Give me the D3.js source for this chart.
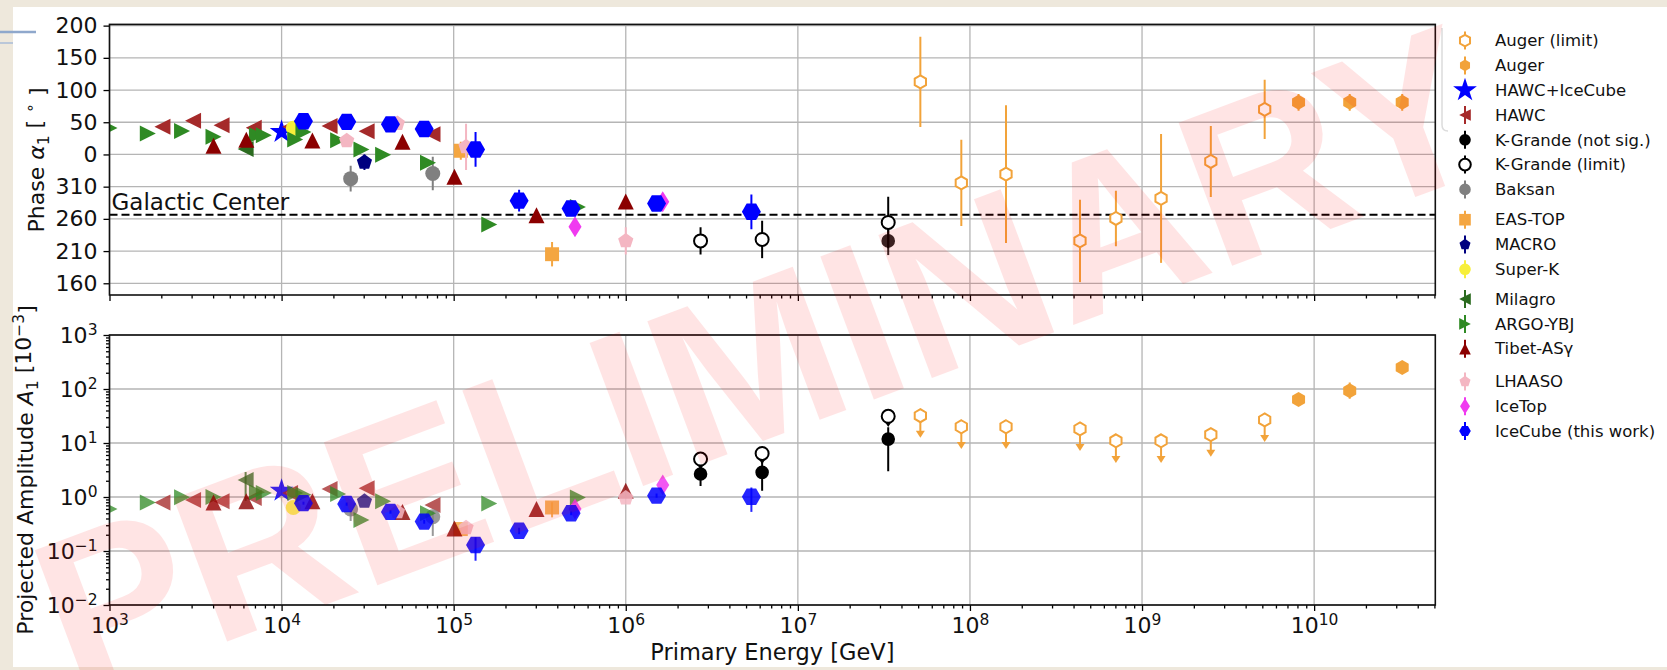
<!DOCTYPE html>
<html>
<head>
<meta charset="utf-8">
<script src="https://cdn.jsdelivr.net/npm/d3@7"></script>
<style>
  html, body { margin: 0; padding: 0; background: #eee8dc; }
  svg { display: block; }
</style>
</head>
<body>
<svg id="chart" width="1667" height="670"></svg>
<script>
// ---------------- axis ticks ----------------
const energyTickExps = [3, 4, 5, 6, 7, 8, 9, 10];
const ampTickExps = [-2, -1, 0, 1, 2, 3];
const phaseTicks = [200, 150, 100, 50, 0, -50, -100, -150, -200];
const phaseTickLabels = ["200", "150", "100", "50", "0", "310", "260", "210", "160"];
const galacticCenterRA = 266.4;

// ---------------- data: energy [GeV], phase [deg RA], amplitude [1e-3] ----------------
// Auger (limit)
const augerLimE = [5.15e7, 8.91e7, 1.62e8, 4.36e8, 7.05e8, 1.29e9, 2.51e9, 5.16e9];
const augerLimPhase = [112.7, 315.9, 329.4, 225.8, 260.6, 291.7, 349.1, 69.9];
const augerLimPhaseErr = [70, 67, 107, 64, 43, 100, 55, 46];
const augerLimAmp = [32, 20, 20, 18.2, 11.0, 11.0, 14.3, 26.7];
// Auger
const augerE = [8.12e9, 1.61e10, 3.25e10];
const augerPhase = [81, 81, 81];
const augerPhaseErr = [13, 13, 13];
const augerAmp = [64, 93, 251];
const augerAmpLo = [58, 66, 228];
const augerAmpHi = [71, 132, 276];
// HAWC+IceCube
const hawcIceE = [1.0e4];
const hawcIcePhase = [35];
const hawcIceAmp = [1.31];
// HAWC
const hawcE = [2.03e3, 3.06e3, 4.48e3, 6.89e3, 1.12e4, 1.90e4, 3.12e4, 7.53e4];
const hawcPhase = [42.9, 52.2, 45.5, 41.3, 43, 44, 36.2, 31.5];
const hawcAmp = [0.79, 0.88, 0.83, 0.96, 1.19, 1.41, 1.45, 0.71];
// KASCADE-Grande (not significant)
const kgNsE = [2.72e6, 6.20e6, 3.35e7];
const kgNsPhase = [null, null, 225.8];
const kgNsPhaseErr = [null, null, 22];
const kgNsAmp = [2.67, 2.86, 11.8];
const kgNsAmpLo = [1.6, 1.3, 3.0];
const kgNsAmpHi = [4.0, 4.6, 19.5];
// KASCADE-Grande (limit)
const kgLimE = [2.72e6, 6.20e6, 3.35e7];
const kgLimPhase = [225.8, 228, 254.4];
const kgLimPhaseErr = [21, 29, 40];
const kgLimAmp = [5.05, 6.4, 31.2];
// Baksan
const baksanE = [2.52e4, 7.56e4];
const baksanPhase = [322.4, 330.5];
const baksanPhaseErr = [20, 26];
const baksanAmp = [0.60, 0.43];
const baksanAmpLo = [0.36, 0.19];
const baksanAmpHi = [0.75, 0.55];
// EAS-TOP
const easTopE = [1.10e5, 3.73e5];
const easTopPhase = [5.6, 205.2];
const easTopPhaseErr = [14, 19];
const easTopAmp = [0.255, 0.64];
const easTopAmpLo = [0.22, 0.42];
const easTopAmpHi = [0.29, 0.80];
// MACRO
const macroE = [3.03e4];
const macroPhase = [348];
const macroPhaseErr = [12];
const macroAmp = [0.83];
// Super-K
const superKE = [1.17e4];
const superKPhase = [40.8];
const superKAmp = [0.64];
// Milagro
const milagroE = [6.18e3];
const milagroPhase = [8.5];
const milagroPhaseErr = [4];
const milagroAmp = [2.07];
const milagroAmpLo = [0.85];
const milagroAmpHi = [2.9];
// ARGO-YBJ
const argoE = [1.0e3, 1.67e3, 2.64e3, 4.02e3, 7.19e3, 7.88e3, 1.20e4, 1.34e4, 2.13e4, 2.91e4, 3.89e4, 7.09e4, 1.61e5, 5.27e5];
const argoPhase = [41, 32.6, 36.6, 27.3, 30, 30, 23.3, 35, 22.2, 7.8, 359.7, 347, 251.3, 278.6];
const argoAmp = [0.60, 0.79, 0.99, 1.0, 1.22, 1.19, 1.19, 1.10, 1.14, 0.375, 0.83, 0.50, 0.76, 0.98];
// Tibet-ASγ
const tibetE = [4.02e3, 6.24e3, 1.51e4, 5.04e4, 1.01e5, 3.03e5, 1.00e6];
const tibetPhase = [13.4, 22.8, 21.6, 19.6, 325.5, 265.7, 287];
const tibetPhaseErr = [3, 3, 3, 4, 6, 8, 8];
const tibetAmp = [0.79, 0.83, 0.83, 0.53, 0.26, 0.60, 1.31];
// LHAASO
const lhaasoE = [2.39e4, 4.71e4, 1.18e5, 1.00e6];
const lhaasoPhase = [21.4, 48.1, 11.8, 225.8];
const lhaasoPhaseErr = [5, 5, 36, 21];
const lhaasoAmp = [0.72, 0.53, 0.27, 0.96];
// IceTop
const icetopE = [5.07e5, 1.64e6];
const icetopPhase = [247.6, 286.4];
const icetopPhaseErr = [9, 9];
const icetopAmp = [0.60, 1.67];
// IceCube (this work)
const icecubeE = [1.34e4, 2.39e4, 4.29e4, 6.74e4, 1.34e5, 2.40e5, 4.81e5, 1.51e6, 5.37e6];
const icecubePhase = [51.7, 50.6, 46.7, 39.6, 7.8, 288.3, 276.1, 283.9, 270.9];
const icecubePhaseErr = [3, 3, 3, 4, 27, 17, 5, 6, 27];
const icecubeAmp = [0.77, 0.74, 0.53, 0.35, 0.129, 0.238, 0.50, 1.06, 1.01];
const icecubeAmpLo = [0.72, 0.69, 0.49, 0.32, 0.066, 0.205, 0.46, 0.97, 0.53];
const icecubeAmpHi = [0.82, 0.79, 0.57, 0.38, 0.18, 0.27, 0.54, 1.16, 1.5];

// ---------------- series table (drawing order = legend order) ----------------
const series = [
  { name: "Auger (limit)", E: augerLimE, phase: augerLimPhase, phaseErr: augerLimPhaseErr, amp: augerLimAmp,
    shape: "hexPointy", r: 6.5, color: "#f2a33a", open: true, arrowDex: 0.41, lowAlpha: 1 },
  { name: "Auger", E: augerE, phase: augerPhase, phaseErr: augerPhaseErr, amp: augerAmp, ampLo: augerAmpLo, ampHi: augerAmpHi,
    shape: "hexPointy", r: 7.5, color: "#f2a33a", lowAlpha: 1 },
  { name: "HAWC+IceCube", E: hawcIceE, phase: hawcIcePhase, amp: hawcIceAmp,
    shape: "star", r: 12.5, color: "#0000ff", lowAlpha: 0.85 },
  { name: "HAWC", E: hawcE, phase: hawcPhase, amp: hawcAmp,
    shape: "triLeft", r: 8, color: "#a52a2a", lowAlpha: 0.78 },
  { name: "K-Grande (not sig.)", E: kgNsE, phase: kgNsPhase, phaseErr: kgNsPhaseErr, amp: kgNsAmp, ampLo: kgNsAmpLo, ampHi: kgNsAmpHi,
    shape: "circle", r: 6.8, color: "#000000", lowAlpha: 1, upAlpha: 0.85 },
  { name: "K-Grande (limit)", E: kgLimE, phase: kgLimPhase, phaseErr: kgLimPhaseErr, amp: kgLimAmp,
    shape: "circle", r: 6.5, color: "#000000", open: true, arrowDex: 0.2, lowAlpha: 1 },
  { name: "Baksan", E: baksanE, phase: baksanPhase, phaseErr: baksanPhaseErr, amp: baksanAmp, ampLo: baksanAmpLo, ampHi: baksanAmpHi,
    shape: "circle", r: 7.5, color: "#808080", lowAlpha: 0.8 },
  { name: "EAS-TOP", E: easTopE, phase: easTopPhase, phaseErr: easTopPhaseErr, amp: easTopAmp, ampLo: easTopAmpLo, ampHi: easTopAmpHi,
    shape: "square", r: 7, color: "#f4a641", lowAlpha: 0.85 },
  { name: "MACRO", E: macroE, phase: macroPhase, phaseErr: macroPhaseErr, amp: macroAmp,
    shape: "pent", r: 8, color: "#000080", lowAlpha: 0.75 },
  { name: "Super-K", E: superKE, phase: superKPhase, amp: superKAmp,
    shape: "circle", r: 7.5, color: "#f7ef3a", lowAlpha: 0.8 },
  { name: "Milagro", E: milagroE, phase: milagroPhase, phaseErr: milagroPhaseErr, amp: milagroAmp, ampLo: milagroAmpLo, ampHi: milagroAmpHi,
    shape: "triLeft", r: 8, color: "#2b6b1f", lowAlpha: 0.75 },
  { name: "ARGO-YBJ", E: argoE, phase: argoPhase, amp: argoAmp,
    shape: "triRight", r: 8, color: "#2f8a24", lowAlpha: 0.75 },
  { name: "Tibet-ASγ", E: tibetE, phase: tibetPhase, phaseErr: tibetPhaseErr, amp: tibetAmp,
    shape: "triUp", r: 8, color: "#8b0000", lowAlpha: 0.8 },
  { name: "LHAASO", E: lhaasoE, phase: lhaasoPhase, phaseErr: lhaasoPhaseErr, amp: lhaasoAmp,
    shape: "pent", r: 8, color: "#f4b6c2", lowAlpha: 0.85 },
  { name: "IceTop", E: icetopE, phase: icetopPhase, phaseErr: icetopPhaseErr, amp: icetopAmp,
    shape: "thinDiamond", r: 10.5, color: "#f03af0", lowAlpha: 0.85 },
  { name: "IceCube (this work)", E: icecubeE, phase: icecubePhase, phaseErr: icecubePhaseErr, amp: icecubeAmp, ampLo: icecubeAmpLo, ampHi: icecubeAmpHi,
    shape: "hexFlat", r: 9.5, color: "#0000ff", lowAlpha: 0.85 }
];

// ---------------- layout ----------------
const FONT = "DejaVu Sans";
const X0 = 109.5, X1 = 1435.3;
const P1 = { top: 24.4, bottom: 295 };
const P2 = { top: 335, bottom: 605 };

const svg = d3.select("#chart");

const x = d3.scaleLog().domain([1e3, 5.06e10]).range([X0, X1]);
const yP = d3.scaleLinear().domain([-218.2, 201.9]).range([P1.bottom, P1.top]);
const yA = d3.scaleLog().domain([1e-2, 1e3]).range([P2.bottom, P2.top]);

// phase in RA degrees folded onto the plotted range
const wrap = ra => (ra > 202 ? ra - 360 : ra);

// ---------------- marker shapes ----------------
function shapePath(shape, r) {
  const poly = (n, rot, rad) => d3.range(n).map(i => {
    const a = rot + i * 2 * Math.PI / n;
    return [rad * Math.cos(a), rad * Math.sin(a)];
  });
  let p;
  switch (shape) {
    case "hexFlat": p = poly(6, 0, r); break;
    case "hexPointy": p = poly(6, -Math.PI / 2, r); break;
    case "pent": p = poly(5, -Math.PI / 2, r); break;
    case "triUp": p = [[0, -r], [-r, r], [r, r]]; break;
    case "triLeft": p = [[-r, 0], [r, -r], [r, r]]; break;
    case "triRight": p = [[r, 0], [-r, -r], [-r, r]]; break;
    case "square": p = [[-r, -r], [r, -r], [r, r], [-r, r]]; break;
    case "thinDiamond": p = [[0, -r], [0.62 * r, 0], [0, r], [-0.62 * r, 0]]; break;
    case "star": p = d3.range(10).map(i => {
        const a = -Math.PI / 2 + i * Math.PI / 5;
        const rad = i % 2 === 0 ? r : r * 0.382;
        return [rad * Math.cos(a), rad * Math.sin(a)];
      }); break;
    case "circle": {
      const path = d3.path();
      path.arc(0, 0, r, 0, 2 * Math.PI);
      path.closePath();
      return path.toString();
    }
  }
  return "M" + p.map(q => q[0].toFixed(2) + "," + q[1].toFixed(2)).join("L") + "Z";
}

function drawMarker(g, s, cx, cy, r, alpha) {
  g.append("path")
    .attr("d", shapePath(s.shape, r))
    .attr("transform", `translate(${cx},${cy})`)
    .attr("fill", s.open ? "#ffffff" : s.color)
    .attr("stroke", s.open ? s.color : "none")
    .attr("stroke-width", s.open ? 2 : 0)
    .attr("opacity", alpha);
}

function vline(g, xx, ya, yb, color, alpha, w) {
  g.append("line")
    .attr("x1", xx).attr("x2", xx).attr("y1", ya).attr("y2", yb)
    .attr("stroke", color).attr("stroke-width", w || 2).attr("opacity", alpha);
}

// ---------------- background ----------------
svg.append("rect").attr("width", 1667).attr("height", 670).attr("fill", "#eee8dc");
svg.append("rect").attr("x", 13).attr("y", 7).attr("width", 1654).attr("height", 660).attr("fill", "#ffffff");
svg.append("line").attr("x1", 0).attr("x2", 36).attr("y1", 32).attr("y2", 32)
  .attr("stroke", "#8fa8cc").attr("stroke-width", 2.5);
svg.append("line").attr("x1", 0).attr("x2", 13).attr("y1", 43).attr("y2", 43)
  .attr("stroke", "#a9bcd8").attr("stroke-width", 1.5);

// ---------------- clip paths ----------------
const defs = svg.append("defs");
defs.append("clipPath").attr("id", "clipTop").append("rect")
  .attr("x", X0).attr("y", P1.top).attr("width", X1 - X0).attr("height", P1.bottom - P1.top);
defs.append("clipPath").attr("id", "clipBot").append("rect")
  .attr("x", X0).attr("y", P2.top).attr("width", X1 - X0).attr("height", P2.bottom - P2.top);

// ---------------- grids ----------------
const majorE = energyTickExps.map(e => Math.pow(10, e));
const minorE = [];
energyTickExps.forEach(e => d3.range(2, 10).forEach(m => {
  const v = m * Math.pow(10, e);
  if (v < x.domain()[1]) minorE.push(v);
}));
const majorA = ampTickExps.map(e => Math.pow(10, e));
const minorA = [];
ampTickExps.slice(0, -1).forEach(e => d3.range(2, 10).forEach(m => minorA.push(m * Math.pow(10, e))));

const grid = svg.append("g").attr("stroke", "#b5b5b5").attr("stroke-width", 1.3);
[P1, P2].forEach(P => {
  majorE.forEach(v => grid.append("line")
    .attr("x1", x(v)).attr("x2", x(v)).attr("y1", P.top).attr("y2", P.bottom));
});
phaseTicks.forEach(v => grid.append("line")
  .attr("x1", X0).attr("x2", X1).attr("y1", yP(v)).attr("y2", yP(v)));
majorA.forEach(v => grid.append("line")
  .attr("x1", X0).attr("x2", X1).attr("y1", yA(v)).attr("y2", yA(v)));

// ---------------- axes ----------------
function styleAxis(g) {
  g.attr("font-family", FONT).attr("font-size", 22);
  g.selectAll(".tick line").attr("stroke", "#000").attr("stroke-width", 1.3);
  g.selectAll(".tick text").attr("fill", "#111");
  g.select(".domain").remove();
}
function powerLabels(g, exps) {
  g.selectAll(".tick text").each(function (d, i) {
    const t = d3.select(this);
    t.text(null);
    t.append("tspan").text("10");
    const e = exps[i];
    t.append("tspan").attr("dy", "-0.48em").attr("font-size", "15.5px")
      .text(e < 0 ? "\u2212" + Math.abs(e) : String(e));
  });
}

// top panel: x ticks without labels
svg.append("g").attr("transform", `translate(0,${P1.bottom})`)
  .call(d3.axisBottom(x).tickValues(majorE).tickSize(6).tickSizeOuter(0).tickFormat(() => ""))
  .call(styleAxis);
svg.append("g").attr("transform", `translate(0,${P1.bottom})`)
  .call(d3.axisBottom(x).tickValues(minorE).tickSize(3.5).tickSizeOuter(0).tickFormat(() => ""))
  .call(styleAxis);
// top panel: phase axis
svg.append("g").attr("transform", `translate(${X0},0)`)
  .call(d3.axisLeft(yP).tickValues(phaseTicks).tickSize(6).tickPadding(6).tickSizeOuter(0)
    .tickFormat((d, i) => phaseTickLabels[i]))
  .call(styleAxis);

// bottom panel: energy axis
svg.append("g").attr("transform", `translate(0,${P2.bottom})`)
  .call(d3.axisBottom(x).tickValues(majorE).tickSize(6).tickPadding(6).tickSizeOuter(0))
  .call(styleAxis)
  .call(g => powerLabels(g, energyTickExps));
svg.append("g").attr("transform", `translate(0,${P2.bottom})`)
  .call(d3.axisBottom(x).tickValues(minorE).tickSize(3.5).tickSizeOuter(0).tickFormat(() => ""))
  .call(styleAxis);
// bottom panel: amplitude axis
svg.append("g").attr("transform", `translate(${X0},0)`)
  .call(d3.axisLeft(yA).tickValues(majorA).tickSize(6).tickPadding(6).tickSizeOuter(0))
  .call(styleAxis)
  .call(g => powerLabels(g, ampTickExps));
svg.append("g").attr("transform", `translate(${X0},0)`)
  .call(d3.axisLeft(yA).tickValues(minorA).tickSize(3.5).tickSizeOuter(0).tickFormat(() => ""))
  .call(styleAxis);

// ---------------- Galactic Center reference ----------------
const gcY = yP(wrap(galacticCenterRA));
svg.append("line").attr("x1", X0).attr("x2", X1).attr("y1", gcY).attr("y2", gcY)
  .attr("stroke", "#000").attr("stroke-width", 2).attr("stroke-dasharray", "8,4");
svg.append("text").attr("x", X0 + 2).attr("y", gcY - 5)
  .attr("font-family", FONT).attr("font-size", 23).attr("fill", "#111")
  .text("Galactic Center");

// ---------------- data marks ----------------
const topLayer = svg.append("g").attr("clip-path", "url(#clipTop)");
const botLayer = svg.append("g").attr("clip-path", "url(#clipBot)");

series.forEach(s => {
  const upA = s.upAlpha || 1;
  // phase panel
  s.E.forEach((e, i) => {
    const ra = s.phase[i];
    if (ra == null) return;
    const v = wrap(ra), cx = x(e);
    const err = s.phaseErr ? s.phaseErr[i] : null;
    if (err) vline(topLayer, cx, yP(v - err), yP(v + err), s.color, upA);
    drawMarker(topLayer, s, cx, yP(v), s.r, upA);
  });
  // amplitude panel
  s.E.forEach((e, i) => {
    const a = s.amp[i];
    if (a == null) return;
    const cx = x(e), cy = yA(a), al = s.lowAlpha;
    if (s.ampLo) vline(botLayer, cx, yA(s.ampLo[i]), yA(s.ampHi[i]), s.color, al);
    if (s.arrowDex) {
      const tip = yA(a / Math.pow(10, s.arrowDex));
      vline(botLayer, cx, cy, tip - 3, s.color, al);
      botLayer.append("path")
        .attr("d", `M${cx - 4.5},${tip - 7}L${cx + 4.5},${tip - 7}L${cx},${tip}Z`)
        .attr("fill", s.color).attr("opacity", al);
    }
    drawMarker(botLayer, s, cx, cy, s.r, al);
  });
});

// ---------------- frames ----------------
[P1, P2].forEach(P => svg.append("rect")
  .attr("x", X0).attr("y", P.top).attr("width", X1 - X0).attr("height", P.bottom - P.top)
  .attr("fill", "none").attr("stroke", "#111").attr("stroke-width", 1.6));

// ---------------- axis titles ----------------
const tP = svg.append("text").attr("transform", "translate(44,160) rotate(-90)")
  .attr("text-anchor", "middle").attr("font-family", FONT).attr("font-size", 22).attr("fill", "#111");
tP.append("tspan").text("Phase ");
tP.append("tspan").attr("font-style", "italic").text("α");
tP.append("tspan").attr("dy", "0.3em").attr("font-size", "15.5px").text("1");
tP.append("tspan").attr("dy", "-0.3em").text(" [ ");
tP.append("tspan").attr("dy", "-0.45em").attr("font-size", "15.5px").text("∘");
tP.append("tspan").attr("dy", "0.45em").text(" ]");

const tA = svg.append("text").attr("transform", "translate(33,470) rotate(-90)")
  .attr("text-anchor", "middle").attr("font-family", FONT).attr("font-size", 22).attr("fill", "#111");
tA.append("tspan").text("Projected Amplitude ");
tA.append("tspan").attr("font-style", "italic").text("A");
tA.append("tspan").attr("dy", "0.3em").attr("font-size", "15.5px").text("1");
tA.append("tspan").attr("dy", "-0.3em").text(" [10");
tA.append("tspan").attr("dy", "-0.45em").attr("font-size", "15.5px").text("\u22123");
tA.append("tspan").attr("dy", "0.45em").text("]");

svg.append("text").attr("x", (X0 + X1) / 2).attr("y", 660)
  .attr("text-anchor", "middle").attr("font-family", FONT).attr("font-size", 22.5).attr("fill", "#111")
  .text("Primary Energy [GeV]");

// ---------------- legend ----------------
svg.append("path").attr("d", "M1442,28L1442,125Q1442,131 1448,131")
  .attr("fill", "none").attr("stroke", "#dcdcdc").attr("stroke-width", 1.5);
const legend = svg.append("g");
series.forEach((s, i) => {
  const ly = 40.6 + i * 24.8 + (i >= 7 ? 5.5 : 0) + (i >= 10 ? 5 : 0) + (i >= 13 ? 8 : 0);
  const lx = 1465;
  const isStar = s.shape === "star";
  if (!isStar) vline(legend, lx, ly - 9, ly + 9, s.color, 1, 2);
  const rr = isStar ? 12.5 : (s.shape === "thinDiamond" ? 8 : 5.8);
  drawMarker(legend, s, lx, ly, rr, 1);
  legend.append("text").attr("x", 1495).attr("y", ly).attr("dy", "0.35em")
    .attr("font-family", FONT).attr("font-size", 16.5).attr("fill", "#111")
    .text(s.name);
});

// ---------------- watermark ----------------
svg.append("text")
  .attr("transform", "translate(760,360) rotate(-20.5)")
  .attr("text-anchor", "middle").attr("dominant-baseline", "central")
  .attr("font-family", "Liberation Sans").attr("font-weight", "bold").attr("font-size", 222)
  .attr("fill", "#ff0000").attr("opacity", 0.1)
  .text("PRELIMINARY");
</script>
</body>
</html>
